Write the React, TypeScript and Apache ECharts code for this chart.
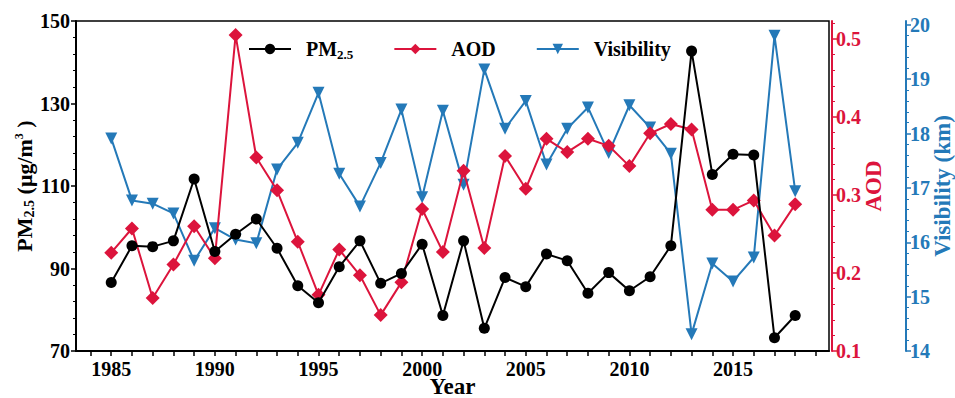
import React, { useEffect, useRef } from "react";
import * as echarts from "echarts";

const years = [1985, 1986, 1987, 1988, 1989, 1990, 1991, 1992, 1993, 1994, 1995, 1996, 1997, 1998, 1999, 2000, 2001, 2002, 2003, 2004, 2005, 2006, 2007, 2008, 2009, 2010, 2011, 2012, 2013, 2014, 2015, 2016, 2017, 2018];
const pm25 = [86.6, 95.5, 95.3, 96.7, 111.7, 94.1, 98.3, 102, 94.9, 85.8, 81.7, 90.4, 96.7, 86.4, 88.8, 95.9, 78.6, 96.7, 75.5, 87.8, 85.6, 93.5, 91.9, 84.0, 89.0, 84.6, 88.0, 95.5, 142.7, 112.8, 117.7, 117.5, 73.2, 78.6];
const aod = [0.226, 0.257, 0.168, 0.211, 0.260, 0.219, 0.505, 0.348, 0.306, 0.240, 0.172, 0.230, 0.197, 0.146, 0.188, 0.282, 0.227, 0.331, 0.232, 0.350, 0.308, 0.372, 0.355, 0.372, 0.363, 0.337, 0.379, 0.391, 0.384, 0.281, 0.281, 0.293, 0.248, 0.288];
const visibility = [17.91, 16.77, 16.71, 16.53, 15.66, 16.26, 16.05, 15.98, 17.34, 17.83, 18.75, 17.26, 16.66, 17.46, 18.44, 16.83, 18.42, 17.06, 19.18, 18.09, 18.6, 17.43, 18.09, 18.48, 17.64, 18.52, 18.11, 17.63, 14.31, 15.61, 15.28, 15.72, 19.8, 16.94];
const xLabelYears = [1985, 1990, 1995, 2000, 2005, 2010, 2015];
const xTickYears = [1984, 1985, 1986, 1987, 1988, 1989, 1990, 1991, 1992, 1993, 1994, 1995, 1996, 1997, 1998, 1999, 2000, 2001, 2002, 2003, 2004, 2005, 2006, 2007, 2008, 2009, 2010, 2011, 2012, 2013, 2014, 2015, 2016, 2017, 2018, 2019];
const aodTicks = [0.1, 0.2, 0.3, 0.4, 0.5];
const visTicks = [14, 15, 16, 17, 18, 19, 20];

const FONT = "Liberation Serif";
const BLACK = "#000000";
const RED = "#DC143C";
const BLUE = "#2479B8";

export default function App() {
  const ref = useRef<HTMLDivElement>(null);
  useEffect(() => {
    if (!ref.current) return;
    const chart = echarts.init(ref.current, undefined, { renderer: "svg" });
    const pair = (arr: number[]) => years.map((y, i) => [y, arr[i]]);
    const tickLabel = (color: string) => ({
      color,
      fontFamily: FONT,
      fontWeight: "bold" as const,
      fontSize: 20,
    });
    chart.setOption({
      animation: false,
      backgroundColor: "#ffffff",
      grid: {
        left: 76,
        right: 126,
        top: 21,
        bottom: 47,
        show: true,
        borderColor: BLACK,
        borderWidth: 1.5,
        outerBoundsMode: "none",
      },
      legend: {
        left: 243,
        top: 34,
        itemWidth: 42,
        itemHeight: 13,
        itemGap: 40,
        data: ["PM2.5", "AOD", "Visibility"],
        formatter: (name: string) =>
          name === "PM2.5" ? "{a|PM}{s|2.5}" : "{a|" + name + "}",
        textStyle: {
          fontFamily: FONT,
          fontWeight: "bold",
          fontSize: 20,
          color: BLACK,
          padding: [0, 0, 0, 10],
          rich: {
            a: { fontFamily: FONT, fontWeight: "bold", fontSize: 20, color: BLACK },
            s: {
              fontFamily: FONT,
              fontWeight: "bold",
              fontSize: 13,
              color: BLACK,
              padding: [10, 0, 0, 0],
            },
          },
        },
      },
      xAxis: {
        type: "value",
        min: 1983.3,
        max: 2019.63,
        name: "Year",
        nameLocation: "middle",
        nameGap: 26,
        nameMoveOverlap: false,
        nameTextStyle: { fontFamily: FONT, fontWeight: "bold", fontSize: 23, lineHeight: 19, color: BLACK },
        axisLine: { show: true, lineStyle: { color: BLACK, width: 2 } },
        axisTick: { show: true, inside: false, length: 5, lineStyle: { color: BLACK, width: 1.5 }, customValues: xTickYears },
        axisLabel: { ...tickLabel(BLACK), margin: 8, customValues: xLabelYears, formatter: (v: number) => String(v) },
        splitLine: { show: false },
      },
      yAxis: [
        {
          type: "value",
          min: 70,
          max: 150,
          interval: 20,
          position: "left",
          name: "{a|PM}{s|2.5}{a| (μg/m}{p|3}{a| )}",
          nameLocation: "middle",
          nameGap: 40,
          nameMoveOverlap: false,
          nameRotate: 90,
          nameTextStyle: {
            fontFamily: FONT,
            fontWeight: "bold",
            fontSize: 22,
            color: BLACK,
            rich: {
              a: { fontFamily: FONT, fontWeight: "bold", fontSize: 22, color: BLACK },
              s: { fontFamily: FONT, fontWeight: "bold", fontSize: 14, color: BLACK, padding: [10, 0, 0, 0] },
              p: { fontFamily: FONT, fontWeight: "bold", fontSize: 12, color: BLACK, padding: [0, 0, 10, 0] },
            },
          },
          axisLine: { show: true, lineStyle: { color: BLACK, width: 2 } },
          axisTick: { show: true, inside: false, length: 5, lineStyle: { color: BLACK, width: 1.5 } },
          minorTick: { show: true, splitNumber: 5, length: 3, lineStyle: { color: BLACK, width: 1 } },
          axisLabel: { ...tickLabel(BLACK), margin: 6 },
          splitLine: { show: false },
        },
        {
          type: "value",
          min: 0.1,
          max: 0.523,
          interval: 0.1,
          position: "right",
          offset: 3,
          name: "AOD",
          nameLocation: "middle",
          nameGap: 30,
          nameMoveOverlap: false,
          nameRotate: 90,
          nameTextStyle: { fontFamily: FONT, fontWeight: "bold", fontSize: 23, color: RED },
          axisLine: { show: true, lineStyle: { color: RED, width: 2 } },
          axisTick: { show: true, inside: false, length: 5, lineStyle: { color: RED, width: 1.5 }, customValues: aodTicks },
          minorTick: { show: true, splitNumber: 5, length: 3, lineStyle: { color: RED, width: 1 } },
          axisLabel: { ...tickLabel(RED), margin: 4, customValues: aodTicks, formatter: (v: number) => v.toFixed(1) },
          splitLine: { show: false },
        },
        {
          type: "value",
          min: 14,
          max: 20.07,
          interval: 1,
          position: "right",
          offset: 77,
          name: "Visibility (km)",
          nameLocation: "middle",
          nameGap: 25,
          nameMoveOverlap: false,
          nameRotate: 90,
          nameTextStyle: { fontFamily: FONT, fontWeight: "bold", fontSize: 23, color: BLUE },
          axisLine: { show: true, lineStyle: { color: BLUE, width: 2 } },
          axisTick: { show: true, inside: false, length: 5, lineStyle: { color: BLUE, width: 1.5 }, customValues: visTicks },
          minorTick: { show: true, splitNumber: 5, length: 3, lineStyle: { color: BLUE, width: 1 } },
          axisLabel: { ...tickLabel(BLUE), margin: 4, customValues: visTicks, formatter: (v: number) => String(Math.round(v)) },
          splitLine: { show: false },
        },
      ],
      series: [
        {
          name: "PM2.5",
          type: "line",
          yAxisIndex: 0,
          data: pair(pm25),
          symbol: "circle",
          symbolSize: 11,
          lineStyle: { color: BLACK, width: 2 },
          itemStyle: { color: BLACK },
          z: 3,
        },
        {
          name: "AOD",
          type: "line",
          yAxisIndex: 1,
          data: pair(aod),
          symbol: "diamond",
          symbolSize: 14,
          lineStyle: { color: RED, width: 2 },
          itemStyle: { color: RED },
          z: 2,
        },
        {
          name: "Visibility",
          type: "line",
          yAxisIndex: 2,
          data: pair(visibility),
          symbol: "triangle",
          symbolRotate: 180,
          symbolSize: 12,
          lineStyle: { color: BLUE, width: 2 },
          itemStyle: { color: BLUE },
          z: 1,
        },
      ],
    });
    return () => chart.dispose();
  }, []);
  return (
    <div
      ref={ref}
      style={{ position: "fixed", left: 0, top: 0, width: 955, height: 398, background: "#fff" }}
    />
  );
}
